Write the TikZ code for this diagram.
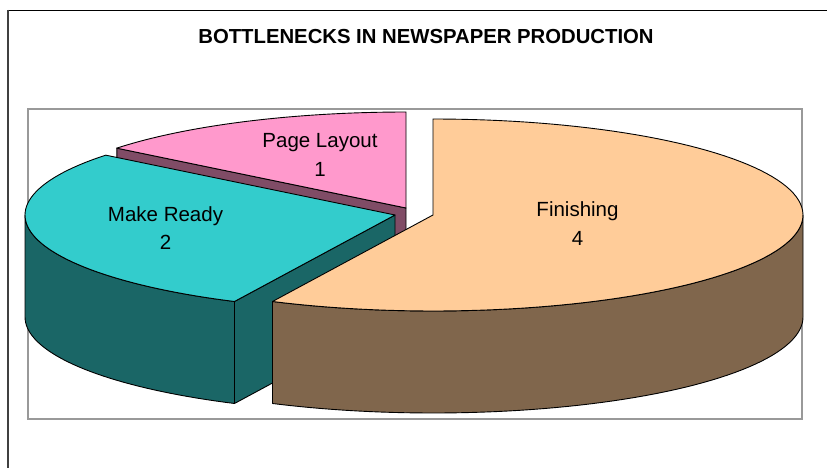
\documentclass[tikz,border=0pt]{standalone}
\usepackage{fontspec}
\setmainfont{Liberation Sans}
\definecolor{fintop}{HTML}{FFCC99}
\definecolor{finside}{HTML}{80664C}
\definecolor{mrtop}{HTML}{33CCCC}
\definecolor{mrside}{HTML}{1A6666}
\definecolor{pltop}{HTML}{FF99CC}
\definecolor{plside}{HTML}{804C66}
\begin{document}
\begin{tikzpicture}[x=1pt, y=-1pt,
    lbl/.style={align=center, inner sep=0pt, font=\fontsize{20.5}{28.5}\selectfont},
    ttl/.style={inner sep=0pt, font=\fontsize{20.3}{22}\selectfont\bfseries},
    face/.style={draw=black, line width=0.9pt, line join=round}]
    \useasboundingbox (0, 0) rectangle (827, 468);
    % frame and plot area
    \draw[black, line width=1pt] (8, 10.7) -- (827, 10.7);
    \draw[black!75, line width=2pt] (8, 10) -- (8, 468);
    \draw[black!40, line width=1.5pt] (28, 109) rectangle (802, 419);
    % page layout
    \draw[face, fill=plside] (406, 208) -- (116.8, 148.1) -- (116.8, 250.1) -- (406, 310) -- cycle;
    \draw[face, fill=pltop] (406, 208) -- plot[domain=90:141.43, samples=40] ({406+370*cos(\x)}, {208-96*sin(\x)}) -- cycle;
    % make ready
    \draw[face, fill=mrside] (395, 215) -- (234.5, 301.5) -- (234.5, 403.5) -- (395, 317) -- cycle;
    \draw[face, fill=mrside] plot[domain=180:244.29, samples=40] ({395+370*cos(\x)}, {215-96*sin(\x)})
        -- plot[domain=244.29:180, samples=40] ({395+370*cos(\x)}, {317-96*sin(\x)}) -- cycle;
    \draw[face, fill=mrtop] (395, 215) -- plot[domain=141.43:244.29, samples=60] ({395+370*cos(\x)}, {215-96*sin(\x)}) -- cycle;
    % finishing
    \draw[face, fill=finside] plot[domain=-115.71:0, samples=60] ({433+370*cos(\x)}, {215-96*sin(\x)})
        -- plot[domain=0:-115.71, samples=60] ({433+370*cos(\x)}, {317-96*sin(\x)}) -- cycle;
    \draw[face, fill=fintop] (433, 215) -- plot[domain=-115.71:90, samples=100] ({433+370*cos(\x)}, {215-96*sin(\x)}) -- cycle;
    % labels
    \draw (426, 44) node[ttl, anchor=base](title){BOTTLENECKS IN NEWSPAPER PRODUCTION};
    \draw (320, 155) node[lbl](pl){Page Layout\\1};
    \draw (165.5, 228.3) node[lbl](mr){Make Ready\\2};
    \draw (577.5, 223.8) node[lbl](fin){Finishing\\4};
\end{tikzpicture}
\end{document}
